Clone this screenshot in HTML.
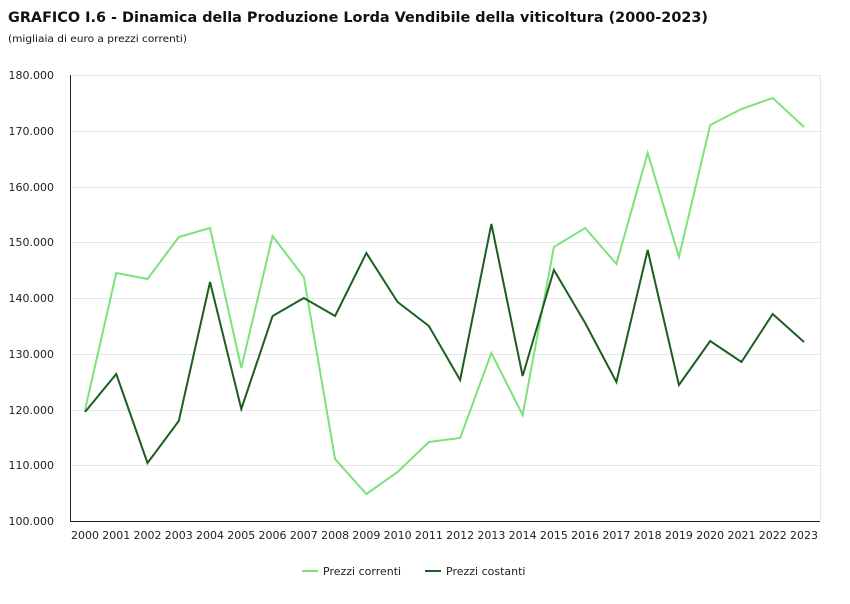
<!DOCTYPE html>
<html><head><meta charset="utf-8"><style>
body{margin:0;background:#fff;width:850px;height:600px;overflow:hidden;font-family:"DejaVu Sans",sans-serif}
</style></head><body>
<svg width="850" height="600" xmlns="http://www.w3.org/2000/svg" font-family="DejaVu Sans, sans-serif">
<text x="8" y="22" font-size="14" font-weight="bold" fill="#111" textLength="700" lengthAdjust="spacingAndGlyphs">GRAFICO I.6 - Dinamica della Produzione Lorda Vendibile della viticoltura (2000-2023)</text>
<text x="8" y="42" font-size="10" fill="#111" textLength="179" lengthAdjust="spacingAndGlyphs">(migliaia di euro a prezzi correnti)</text>
<g stroke="#e6e6e6" stroke-width="1">
<line x1="70" x2="820" y1="75.5" y2="75.5"/><line x1="70" x2="820" y1="131.5" y2="131.5"/><line x1="70" x2="820" y1="187.5" y2="187.5"/><line x1="70" x2="820" y1="242.5" y2="242.5"/><line x1="70" x2="820" y1="298.5" y2="298.5"/><line x1="70" x2="820" y1="354.5" y2="354.5"/><line x1="70" x2="820" y1="410.5" y2="410.5"/><line x1="70" x2="820" y1="465.5" y2="465.5"/>
<line x1="820.5" x2="820.5" y1="75" y2="521"/>
</g>
<line x1="70" x2="820" y1="521.5" y2="521.5" stroke="#222"/>
<line x1="70.5" x2="70.5" y1="75" y2="521" stroke="#222"/>
<g font-size="11" fill="#222" text-anchor="end">
<text x="54" y="79">180.000</text><text x="54" y="135">170.000</text><text x="54" y="191">160.000</text><text x="54" y="246">150.000</text><text x="54" y="302">140.000</text><text x="54" y="358">130.000</text><text x="54" y="414">120.000</text><text x="54" y="469">110.000</text><text x="54" y="525">100.000</text>
</g>
<g font-size="11" fill="#222" text-anchor="middle" id="yrs"></g>
<polyline id="lc" fill="none" stroke="#7de27a" stroke-width="2"/>
<polyline id="dc" fill="none" stroke="#1d5e20" stroke-width="2"/>
<line x1="302" x2="318" y1="571" y2="571" stroke="#7de27a" stroke-width="2"/>
<text x="323" y="575" font-size="11" fill="#222">Prezzi correnti</text>
<line x1="425" x2="441" y1="571" y2="571" stroke="#1d5e20" stroke-width="2"/>
<text x="446" y="575" font-size="11" fill="#222">Prezzi costanti</text>
</svg>
<script>
var L=[410,273,279,237,228,368,236,277,459,494,472,442,438,353,415,247,228,264,153,257,125,109,98,127];
var D=[412,374,463,421,282,409,316,298,316,253,302,326,380,224,376,270,323,382,250,385,341,362,314,342];
var s=31.26,x0=85,a=[],b=[],g=document.getElementById('yrs'),h='';
for(var i=0;i<24;i++){var x=x0+i*s;a.push(x+','+L[i]);b.push(x+','+D[i]);h+='<text x="'+x+'" y="539">'+(2000+i)+'</text>';}
document.getElementById('lc').setAttribute('points',a.join(' '));
document.getElementById('dc').setAttribute('points',b.join(' '));
g.innerHTML=h;
</script>
</body></html>
